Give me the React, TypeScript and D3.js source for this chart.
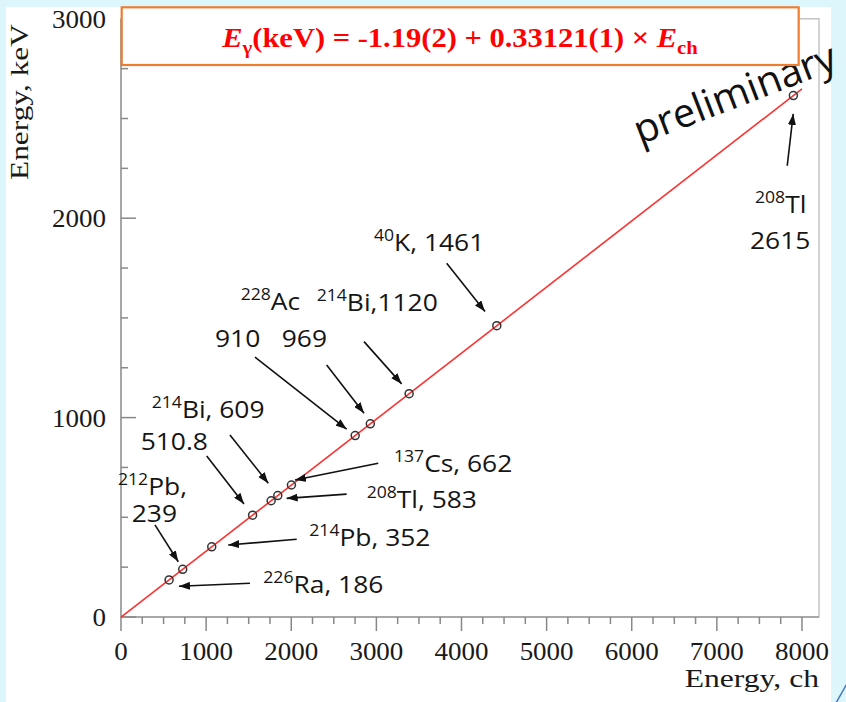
import React from "react";
import * as d3 from "d3";

// ---- data ----
const massNumbers = ["226", "212", "214", "", "208", "214", "137", "228", "228", "214", "40", "208"];
const elements = ["Ra", "Pb", "Pb", "", "Tl", "Bi", "Cs", "Ac", "Ac", "Bi", "K", "Tl"];
const energyKeV = [186, 239, 352, 510.8, 583, 609, 662, 910, 969, 1120, 1461, 2615];
const energyCh = [565, 725, 1066, 1546, 1764, 1842, 2002, 2751, 2929, 3385, 4415, 7899];

const fitIntercept = -1.19;
const fitSlope = 0.33121;
const fitRange = [0, 8000];

const xTicks = [0, 1000, 2000, 3000, 4000, 5000, 6000, 7000, 8000];
const yTicks = [0, 1000, 2000, 3000];
const xMinorStep = 250;
const yMinorStep = 250;

// ---- annotation layout (data units: channel, keV) ----
type Part = { sup?: string; t?: string };
const labels: { ch: number; keV: number; parts: Part[] }[] = [
  { ch: 1672, keV: 119, parts: [{ sup: "226" }, { t: "Ra, 186" }] },
  { ch: -35, keV: 614, parts: [{ sup: "212" }, { t: "Pb," }] },
  { ch: 126, keV: 476, parts: [{ t: "239" }] },
  { ch: 2212, keV: 358, parts: [{ sup: "214" }, { t: "Pb, 352" }] },
  { ch: 231, keV: 838, parts: [{ t: "510.8" }] },
  { ch: 361, keV: 997, parts: [{ sup: "214" }, { t: "Bi, 609" }] },
  { ch: 3207, keV: 729, parts: [{ sup: "137" }, { t: "Cs, 662" }] },
  { ch: 2886, keV: 545, parts: [{ sup: "208" }, { t: "Tl, 583" }] },
  { ch: 1406, keV: 1540, parts: [{ sup: "228" }, { t: "Ac" }] },
  { ch: 1104, keV: 1356, parts: [{ t: "910" }] },
  { ch: 1888, keV: 1356, parts: [{ t: "969" }] },
  { ch: 2299, keV: 1535, parts: [{ sup: "214" }, { t: "Bi,1120" }] },
  { ch: 2972, keV: 1838, parts: [{ sup: "40" }, { t: "K, 1461" }] },
  { ch: 7448, keV: 2025, parts: [{ sup: "208" }, { t: "Tl" }] },
  { ch: 7389, keV: 1845, parts: [{ t: "2615" }] },
];

const arrows: number[][] = [
  [1515, 169, 681, 154],
  [399, 462, 673, 277],
  [2064, 390, 1260, 361],
  [1007, 808, 1445, 567],
  [1280, 913, 1730, 671],
  [3022, 771, 2044, 687],
  [2651, 616, 1946, 595],
  [1574, 1303, 2651, 942],
  [2416, 1264, 2855, 1022],
  [2855, 1381, 3297, 1169],
  [3826, 1774, 4276, 1532],
  [7827, 2263, 7897, 2523],
];

const W = 846;
const H = 702;

export default function App() {
  const x = d3.scaleLinear().domain([0, 8200]).range([121, 819]);
  const y = d3.scaleLinear().domain([0, 3000]).range([617, 18.8]);

  const xMinor = d3.range(0, 8000 + 1, xMinorStep).filter((v) => v % 1000 !== 0);
  const yMinor = d3.range(0, 3000 + 1, yMinorStep).filter((v) => v % 1000 !== 0);

  const fitLine = d3
    .line<number>()
    .x((c) => x(c))
    .y((c) => y(fitIntercept + fitSlope * c));

  const serif = "'Liberation Serif', 'Times New Roman', serif";
  const sans = "'Open Sans', sans-serif";
  const axisColor = "#9a9a9a";

  return (
    <svg
      width={W}
      height={H}
      style={{ position: "fixed", left: 0, top: 0, display: "block" }}
    >
      <defs>
        <marker
          id="ah"
          markerUnits="userSpaceOnUse"
          markerWidth={12}
          markerHeight={8}
          refX={11}
          refY={4}
          orient="auto"
        >
          <path d="M0,0 L11,4 L0,8 Z" fill="#111" />
        </marker>
      </defs>

      {/* background */}
      <rect x={0} y={0} width={W} height={H} fill="#dcf6fb" />
      <rect x={6} y={7} width={825} height={H - 7} fill="#ffffff" />
      <line x1={836} y1={703} x2={849} y2={680} stroke="#4a78c0" strokeWidth={1.5} />

      {/* frame */}
      <rect
        x={x(0)}
        y={y(3000)}
        width={x(8200) - x(0)}
        height={y(0) - y(3000)}
        fill="none"
        stroke="#c4c4c4"
        strokeWidth={1.5}
      />
      {/* axes */}
      <line x1={x(0)} x2={x(8200)} y1={y(0)} y2={y(0)} stroke={axisColor} strokeWidth={1.6} />
      <line x1={x(0)} x2={x(0)} y1={y(0)} y2={y(3000)} stroke={axisColor} strokeWidth={1.6} />

      {/* x ticks (outward) */}
      {xTicks.map((v) => (
        <line key={"xt" + v} x1={x(v)} x2={x(v)} y1={y(0)} y2={y(0) + 14} stroke="#888" strokeWidth={1.5} />
      ))}
      {xMinor.map((v) => (
        <line key={"xm" + v} x1={x(v)} x2={x(v)} y1={y(0)} y2={y(0) + 7} stroke="#888" strokeWidth={1.5} />
      ))}
      {/* y ticks (inward) */}
      {yTicks.map((v) => (
        <line key={"yt" + v} x1={x(0)} x2={x(0) + 15} y1={y(v)} y2={y(v)} stroke="#888" strokeWidth={1.5} />
      ))}
      {yMinor.map((v) => (
        <line key={"ym" + v} x1={x(0)} x2={x(0) + 7} y1={y(v)} y2={y(v)} stroke="#888" strokeWidth={1.5} />
      ))}

      {/* tick labels */}
      {xTicks.map((v) => (
        <text
          key={"xl" + v}
          transform={`translate(${x(v)},${y(0) + 43}) scale(1.08,1)`}
          textAnchor="middle"
          fontFamily={serif}
          fontSize={25}
          fill="#1a1a1a"
        >
          {v}
        </text>
      ))}
      {yTicks.map((v) => (
        <text
          key={"yl" + v}
          transform={`translate(${x(0) - 15},${y(v) + 9}) scale(1.08,1)`}
          textAnchor="end"
          fontFamily={serif}
          fontSize={25}
          fill="#1a1a1a"
        >
          {v}
        </text>
      ))}

      {/* axis titles */}
      <text
        transform={`translate(${x(8200)},687) scale(1.24,1)`}
        textAnchor="end"
        fontFamily={serif}
        fontSize={25.5}
        fill="#1a1a1a"
      >
        Energy, ch
      </text>
      <text
        transform={`translate(28,180) rotate(-90) scale(1.23,1)`}
        textAnchor="start"
        fontFamily={serif}
        fontSize={25.5}
        fill="#1a1a1a"
      >
        Energy, keV
      </text>

      {/* fit line */}
      <path d={fitLine(fitRange) || ""} fill="none" stroke="#ff3030" strokeWidth={1.6} />

      {/* data points */}
      {energyCh.map((c, i) => (
        <circle
          key={"p" + i}
          cx={x(c)}
          cy={y(energyKeV[i])}
          r={4}
          fill="none"
          stroke="#333"
          strokeWidth={1.5}
        >
          <title>{`${massNumbers[i]}${elements[i]} ${energyKeV[i]} keV`}</title>
        </circle>
      ))}

      {/* arrows */}
      {arrows.map((a, i) => (
        <line
          key={"a" + i}
          x1={x(a[0])}
          y1={y(a[1])}
          x2={x(a[2])}
          y2={y(a[3])}
          stroke="#111"
          strokeWidth={1.6}
          markerEnd="url(#ah)"
        />
      ))}

      {/* labels */}
      {labels.map((l, i) => {
        let prevSup = false;
        return (
          <text
            key={"l" + i}
            transform={`translate(${x(l.ch)},${y(l.keV)}) scale(1.1,1)`}
            fontFamily={sans}
            fontSize={24}
            fill="#151515"
          >
            {l.parts.map((p, j) => {
              if (p.sup) {
                prevSup = true;
                return (
                  <tspan key={j} fontSize={16} dy={-10}>
                    {p.sup}
                  </tspan>
                );
              }
              const dy = prevSup ? 10 : 0;
              prevSup = false;
              return (
                <tspan key={j} dy={dy}>
                  {p.t}
                </tspan>
              );
            })}
          </text>
        );
      })}

      {/* preliminary */}
      <text
        transform={`translate(${x(6097)},${y(2368)}) rotate(-21)`}
        fontFamily={sans}
        fontSize={40}
        fill="#111"
      >
        preliminary
      </text>

      {/* formula box */}
      <rect
        x={x(0) + 0.7}
        y={7.3}
        width={x(7953) - x(0)}
        height={57.7}
        fill="#ffffff"
        stroke="#ed7d31"
        strokeWidth={2.2}
      />
      <text
        transform={`translate(460,46.7) scale(1.09,1)`}
        textAnchor="middle"
        fontFamily={serif}
        fontWeight="bold"
        fontSize={28}
        fill="#ff0000"
      >
        <tspan fontStyle="italic">E</tspan>
        <tspan fontSize={19} dy={7}>γ</tspan>
        <tspan dy={-7}>(keV) = -1.19(2) + 0.33121(1) × </tspan>
        <tspan fontStyle="italic">E</tspan>
        <tspan fontSize={19} dy={7}>ch</tspan>
      </text>
    </svg>
  );
}
